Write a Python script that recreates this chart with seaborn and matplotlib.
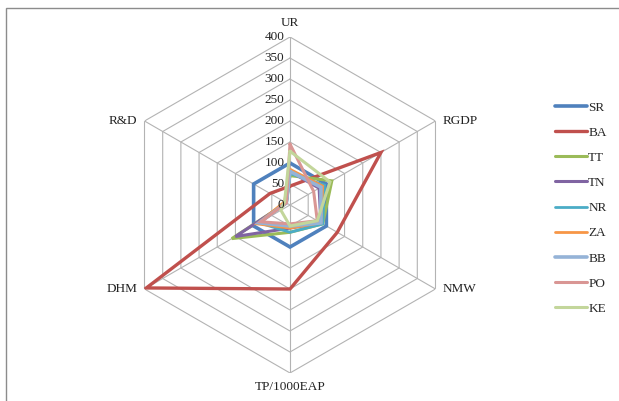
import numpy as np
import pandas as pd
import matplotlib
matplotlib.use("Agg")
import matplotlib.pyplot as plt
from matplotlib.patches import Rectangle
from matplotlib.lines import Line2D
import seaborn as sns

# ---- data ----
axes_labels = ["UR", "RGDP", "NMW", "TP/1000EAP", "DHM", "R&D"]
series_names = ["SR", "BA", "TT", "TN", "NR", "ZA", "BB", "PO", "KE"]
SR = [100, 100, 100, 100, 100, 100]
BA = [45, 250, 130, 200, 395, 55]
TT = [70, 115, 90, 65, 160, 10]
TN = [80, 80, 85, 55, 150, 10]
NR = [75, 95, 90, 65, 85, 10]
ZA = [85, 90, 85, 55, 90, 15]
BB = [80, 85, 85, 50, 85, 10]
PO = [145, 65, 75, 45, 80, 10]
KE = [128, 110, 75, 50, 25, 15]
values = [SR, BA, TT, TN, NR, ZA, BB, PO, KE]
r_ticks = [0, 50, 100, 150, 200, 250, 300, 350, 400]

colors = ["#4F81BD", "#C0504D", "#9BBB59", "#8064A2", "#4BACC6",
          "#F79646", "#95B3D7", "#D99694", "#C3D69B"]
widths = [2.6, 2.4, 2.2, 2.2, 2.0, 2.0, 2.6, 2.2, 2.2]

n = len(axes_labels)
angles = np.linspace(0, 2 * np.pi, n, endpoint=False)

rows = []
for name, vals in zip(series_names, values):
    for i in range(n + 1):
        rows.append({"series": name, "order": i,
                     "angle": angles[i % n] if i < n else 2 * np.pi,
                     "value": vals[i % n]})
df = pd.DataFrame(rows)

sns.set_theme(style="white")
plt.rcParams["font.family"] = ["Liberation Serif", "DejaVu Serif"]

W, H = 619, 401
fig = plt.figure(figsize=(W / 100, H / 100), dpi=100)
fig.patch.set_facecolor("white")

cx, cy, R = 290, 205, 168
ax = fig.add_axes([(cx - R) / W, (H - cy - R) / H, 2 * R / W, 2 * R / H],
                  projection="polar")
ax.set_theta_zero_location("N")
ax.set_theta_direction(-1)
ax.set_ylim(0, 400)
ax.grid(False)
ax.spines["polar"].set_visible(False)
ax.set_xticks([])
ax.set_yticks([])
ax.set_facecolor("none")

grid_c = "#B3B3B3"
ring_angles = np.append(angles, 2 * np.pi)
for t in r_ticks[1:]:
    ax.plot(ring_angles, [t] * (n + 1), color=grid_c, lw=0.8, zorder=1)
for a in angles:
    ax.plot([a, a], [0, r_ticks[-1]], color=grid_c, lw=0.8, zorder=1)

sns.lineplot(data=df, x="angle", y="value", hue="series",
             hue_order=series_names, palette=colors, sort=False,
             estimator=None, units="series", legend=False, ax=ax, zorder=3)
data_lines = ax.get_lines()[-len(series_names):]
for ln, w in zip(data_lines, widths):
    ln.set_linewidth(w)
    ln.set_solid_joinstyle("miter")
ax.set_xlabel("")
ax.set_ylabel("")

fs = 9.5
for t in r_ticks:
    ax.annotate(str(t), xy=(0, t), xytext=(-4, 0), textcoords="offset points",
                ha="right", va="center", fontsize=fs, color="#222222")

offsets = [((0, 6), "center", "bottom"),
           ((5, 0), "left", "center"),
           ((5, 0), "left", "center"),
           ((0, -6), "center", "top"),
           ((-5, 0), "right", "center"),
           ((-5, 0), "right", "center")]
for a, lab, (off, ha, va) in zip(angles, axes_labels, offsets):
    ax.annotate(lab, xy=(a, 400), xytext=off, textcoords="offset points",
                ha=ha, va=va, fontsize=fs, color="#222222")

handles = [Line2D([0], [0], color=c, lw=w) for c, w in zip(colors, widths)]
fig.legend(handles, series_names, loc="upper left",
           bbox_to_anchor=(550 / W, 1 - 96 / H), frameon=False,
           fontsize=fs, handlelength=2.4, handletextpad=0.1,
           labelspacing=0.98, borderaxespad=0)

fig.patches.append(Rectangle((6 / W, -0.05), 1.1, 1.05 - 8 / H,
                             transform=fig.transFigure, fill=False,
                             edgecolor="#8C8C8C", lw=1.0))

fig.savefig("out.png", dpi=100)
